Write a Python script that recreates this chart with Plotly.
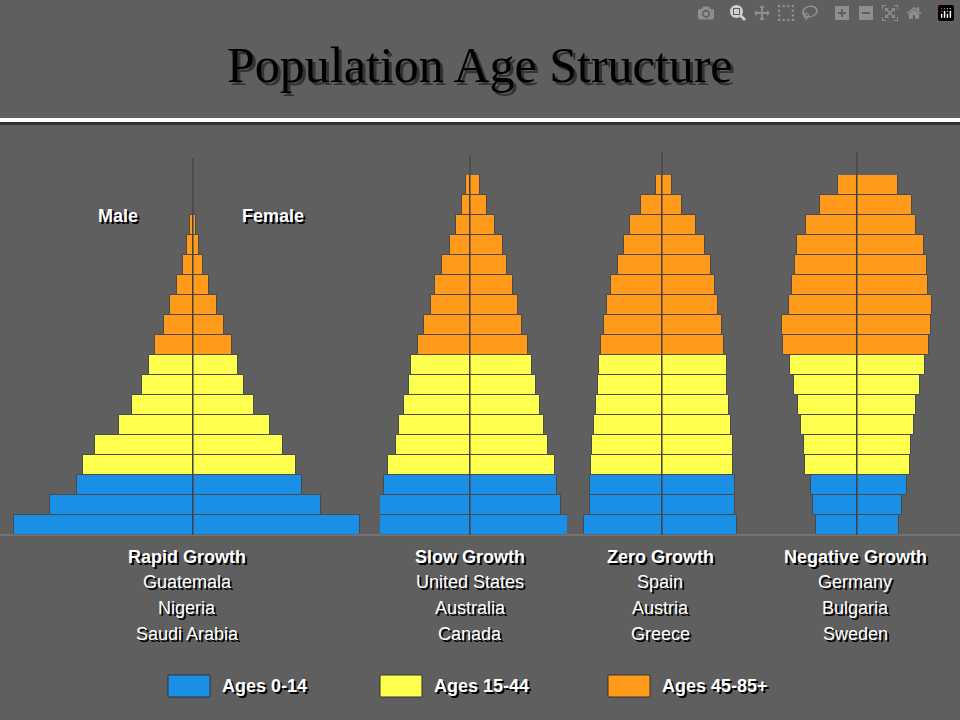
import plotly.graph_objects as go

ages = [f"{5*i}-{5*i+4}" for i in range(17)] + ["85+"]
groups = ["Rapid Growth", "Slow Growth", "Zero Growth", "Negative Growth"]
countries = [["Guatemala", "Nigeria", "Saudi Arabia"],
             ["United States", "Australia", "Canada"],
             ["Spain", "Austria", "Greece"],
             ["Germany", "Bulgaria", "Sweden"]]
male = [
    [179, 143, 116, 110, 98, 74, 61, 51, 44, 38, 29, 23, 16, 10, 6, 3, None, None],
    [98, 92, 86, 82, 74, 71, 66, 61, 59, 52, 46, 39, 35, 28, 20, 14, 8, 4],
    [78, 72, 72, 71, 70, 68, 66, 64, 63, 61, 58, 55, 51, 44, 38, 32, 21, 6],
    [41, 44, 46, 52, 53, 56, 59, 63, 67, 74, 75, 68, 65, 62, 60, 51, 37, 19],
]
female = [
    [167, 128, 109, 103, 90, 77, 61, 51, 45, 39, 31, 24, 16, 10, 6, 3, None, None],
    [98, 91, 87, 85, 78, 74, 70, 66, 62, 58, 52, 48, 43, 37, 33, 25, 17, 10],
    [75, 73, 73, 71, 71, 69, 67, 65, 65, 62, 60, 56, 53, 49, 43, 34, 20, 10],
    [42, 45, 50, 53, 54, 57, 59, 63, 68, 72, 74, 75, 71, 70, 67, 59, 55, 41],
]
legend_labels = ["Ages 0-14", "Ages 15-44", "Ages 45-85+"]
colors = ["#1a8fe6", "#ffff4d", "#ff9a1a"]
band = [0] * 3 + [1] * 6 + [2] * 9

centers = [193, 470, 662, 857]
splits = [0, 380, 567, 760, 960]
W, H, TOP, BOT = 960, 720, 175, 535
def px(x): return x / W
def py(y): return (BOT - y) / (BOT - TOP)

fig = go.Figure()
for g in range(4):
    ax = "x" if g == 0 else f"x{g+1}"
    cols = [colors[b] for b in band]
    fig.add_trace(go.Bar(y=ages, x=[-v if v is not None else None for v in male[g]], orientation="h",
                         marker=dict(color=cols, line=dict(color="#4a4a4a", width=1)),
                         xaxis=ax, yaxis="y", showlegend=False, hoverinfo="skip"))
    fig.add_trace(go.Bar(y=ages, x=female[g], orientation="h",
                         marker=dict(color=cols, line=dict(color="#4a4a4a", width=1)),
                         xaxis=ax, yaxis="y", showlegend=False, hoverinfo="skip"))
    key = "xaxis" if g == 0 else f"xaxis{g+1}"
    fig.layout[key] = dict(domain=[px(splits[g]), px(splits[g+1])],
                           range=[splits[g] - centers[g], splits[g+1] - centers[g]],
                           visible=False, anchor="y")

fig.update_layout(
    width=W, height=H, barmode="relative", bargap=0,
    margin=dict(l=0, r=0, t=TOP, b=H - BOT),
    paper_bgcolor="#5f5f5f", plot_bgcolor="#5f5f5f",
    yaxis=dict(visible=False, range=[-0.5, 17.5]),
)

shapes = []
anns = []
def text(x, y, s, size, bold=False, family="Liberation Sans", color="white", anchor="center"):
    t = f"<b>{s}</b>" if bold else s
    for dx, dy, c in [(2, 2, "black"), (0, 0, color)]:
        anns.append(dict(x=px(x + dx), y=py(y + dy), xref="paper", yref="paper", text=t,
                         showarrow=False, xanchor=anchor, yanchor="middle",
                         font=dict(size=size, family=family, color=c)))

for dx, c in [(3, "#333333"), (0, "black")]:
    anns.append(dict(x=px(480 + dx), y=py(65 + dx), xref="paper", yref="paper",
                     text="Population Age Structure", showarrow=False,
                     xanchor="center", yanchor="middle",
                     font=dict(size=50, family="Liberation Serif", color=c)))
shapes.append(dict(type="rect", xref="paper", yref="paper", x0=0, x1=1, y0=py(125), y1=py(121),
                   fillcolor="#333333", line_width=0))
shapes.append(dict(type="rect", xref="paper", yref="paper", x0=0, x1=1, y0=py(122), y1=py(118),
                   fillcolor="white", line_width=0))
shapes.append(dict(type="line", xref="paper", yref="paper", x0=0, x1=1, y0=0, y1=0,
                   line=dict(color="#888888", width=1)))
for g, c in enumerate(centers):
    top = [158, 155, 152, 152][g]
    shapes.append(dict(type="line", xref="paper", yref="paper", x0=px(c), x1=px(c), y0=0, y1=py(top),
                       line=dict(color="#3a3a3a", width=1), layer="above"))

text(118, 216, "Male", 18, bold=True)
text(273, 216, "Female", 18, bold=True)
label_x = [187, 470, 660, 855]
for g in range(4):
    text(label_x[g], 557, groups[g], 18, bold=True)
    for i, c in enumerate(countries[g]):
        text(label_x[g], 582 + 26 * i, c, 18)

lx = [168, 380, 608]
for i in range(3):
    shapes.append(dict(type="rect", xref="paper", yref="paper", x0=px(lx[i]), x1=px(lx[i] + 42),
                       y0=py(697), y1=py(675), fillcolor=colors[i], line=dict(color="#333333", width=1)))
    text(lx[i] + 52, 686, legend_labels[i], 18, bold=True, anchor="left")

fig.update_layout(shapes=shapes, annotations=anns)
fig.write_html("out.html",
               post_script="document.body.style.margin='0';document.body.style.overflow='hidden';")
